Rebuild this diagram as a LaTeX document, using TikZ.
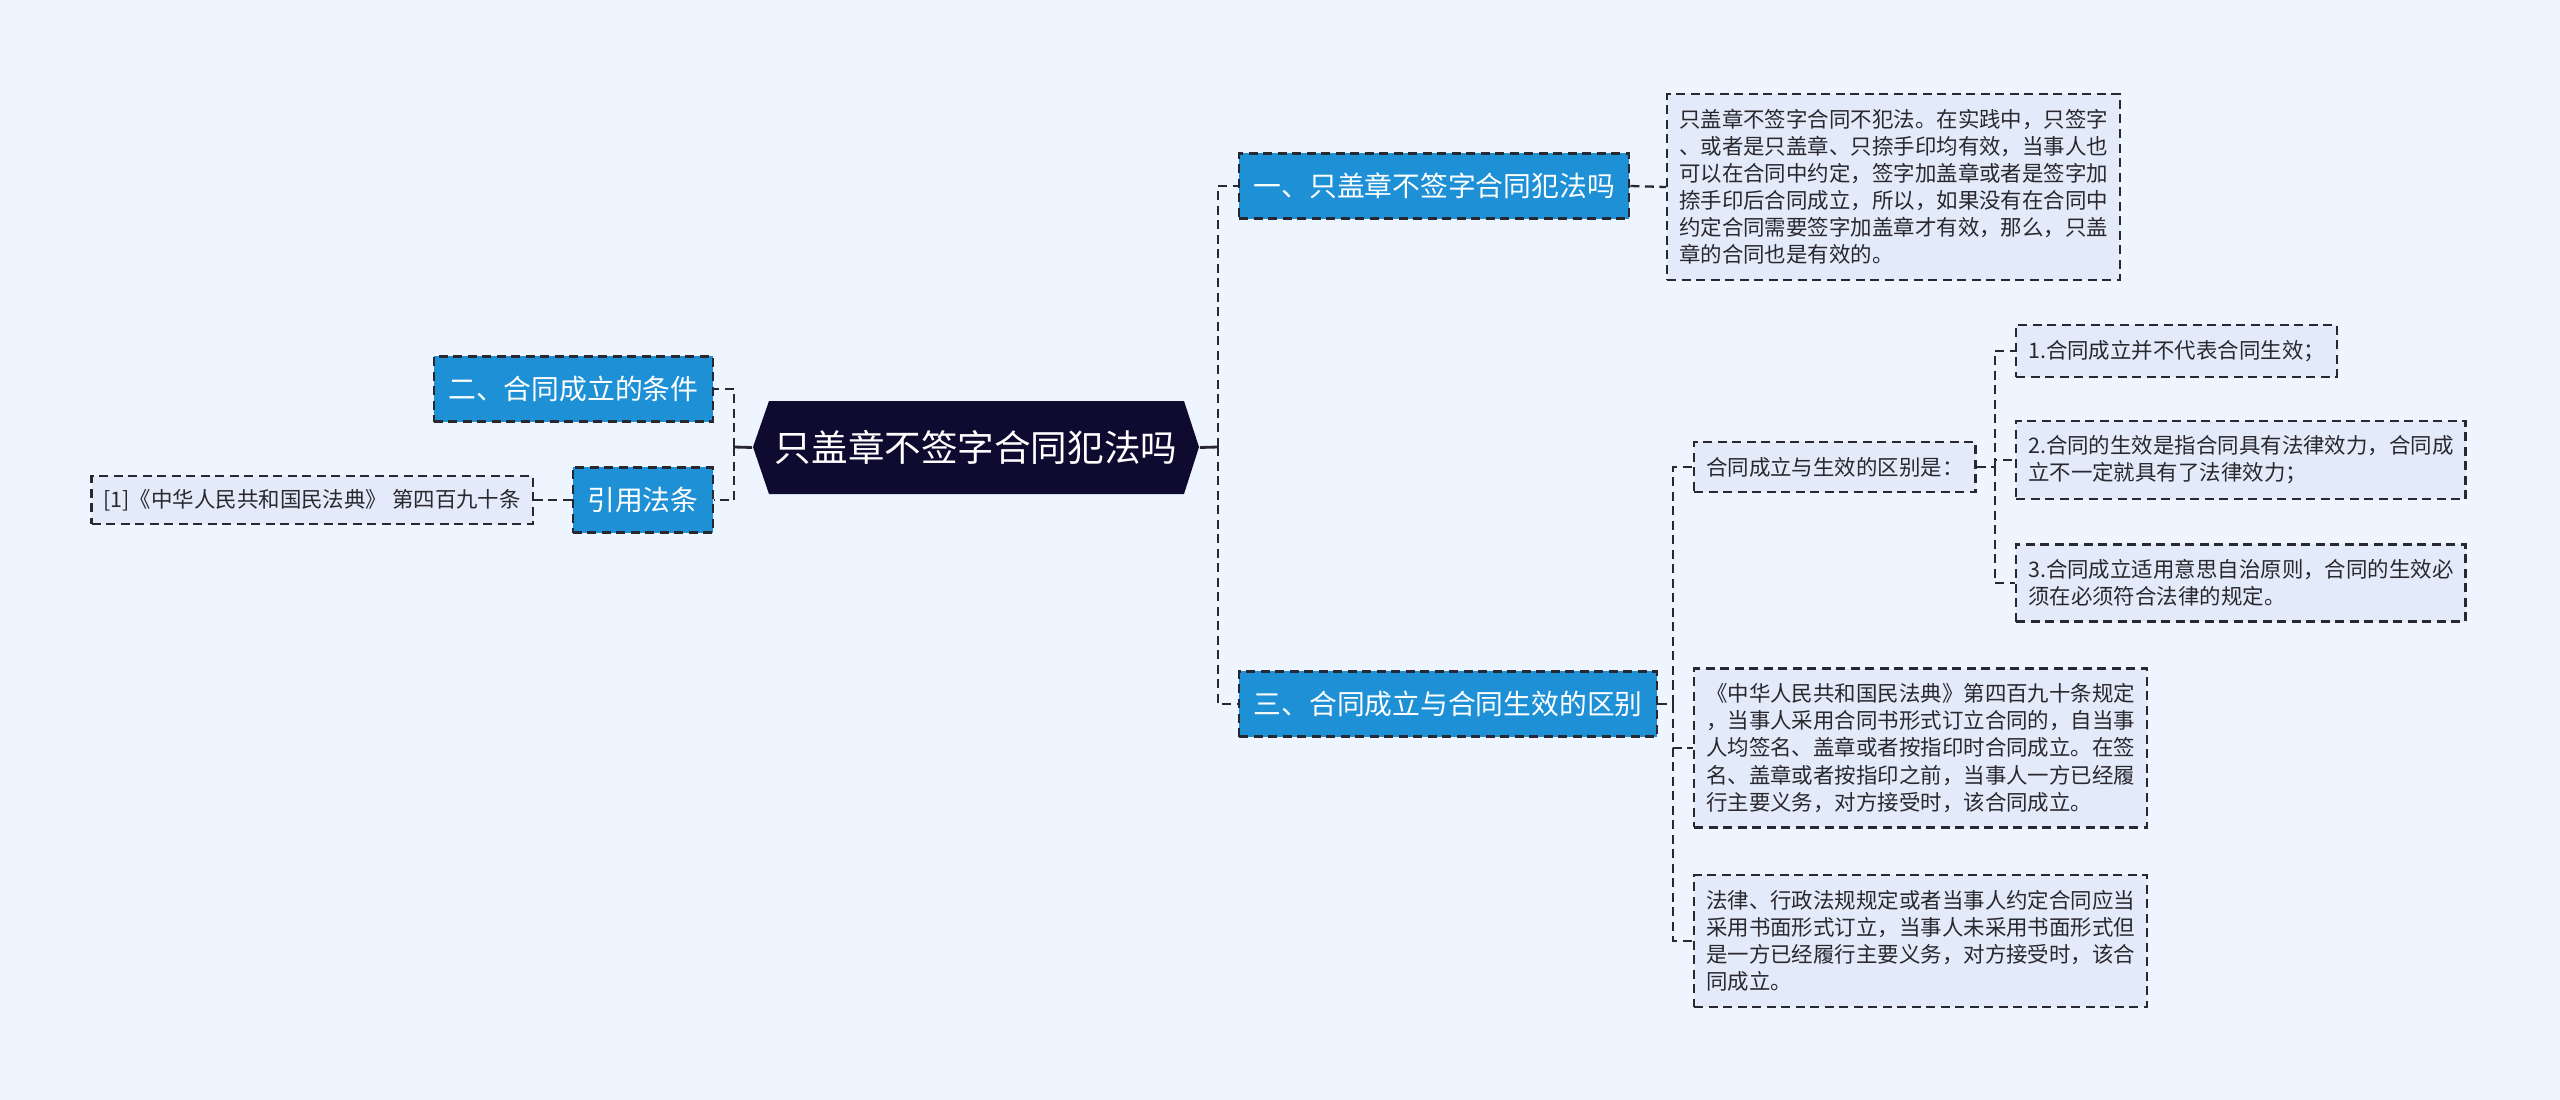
\documentclass[tikz,border=0pt]{standalone}
\usepackage{fontspec}
\setmainfont{Noto Sans CJK SC}
\usepackage{xcolor}
\usepackage{tikz}
\usetikzlibrary{positioning}
\definecolor{pagebg}{RGB}{239, 245, 255}
\definecolor{headblue}{RGB}{30, 144, 214}
\definecolor{rootnavy}{RGB}{14,  10,  48}
\definecolor{notefill}{RGB}{227, 235, 251}
\definecolor{linegray}{RGB}{40,  40,  48}
\definecolor{textgray}{RGB}{40,  40,  45}

\begin{document}
\begin{tikzpicture}[
  x=0.01cm, y=-0.01cm,
  link/.style={draw=linegray, line width=0.65pt, dash pattern=on 0.09cm off 0.055cm},
  stub/.style={draw=linegray, line width=0.8pt},
  headbox/.style={draw=linegray, line width=0.65pt, dash pattern=on 0.09cm off 0.055cm,
                  fill=headblue, text=white, inner xsep=0.145cm, minimum height=0.65cm,
                  font=\fontsize{7.9pt}{9pt}\selectfont},
  notebox/.style={draw=linegray, line width=0.65pt, dash pattern=on 0.09cm off 0.055cm,
                  fill=notefill, text=textgray, align=left, inner xsep=0.12cm, inner ysep=0.15cm,
                  font=\fontsize{6.1pt}{7.7pt}\selectfont}
]
  \useasboundingbox (0,0) rectangle (2560,1100);
  \fill[pagebg] (0,0) rectangle (2560,1100);

  % root
  \fill[rootnavy] (753,447) -- (769,401) -- (1184,401) -- (1199,447) -- (1184,494) -- (769,494) -- cycle;
  \node[text=white, minimum width=4.46cm, minimum height=0.93cm, inner sep=0pt,
        font=\fontsize{10.4pt}{12pt}\selectfont] (root) at (976,447.5) {只盖章不签字合同犯法吗};

  % left side
  \node[headbox, anchor=east] (cond) at (714,389) {二、合同成立的条件};
  \node[headbox, anchor=east] (law) at (714,500) {引用法条};
  \node[notebox, anchor=east, inner ysep=0.13cm] (cite) at (534,500) {[1]《中华人民共和国民法典》 第四百九十条};

  % right side
  \node[headbox, anchor=west] (crime) at (1238,186) {一、只盖章不签字合同犯法吗};
  \node[headbox, anchor=west] (diffhead) at (1238,704) {三、合同成立与合同生效的区别};

  \node[notebox, anchor=west] (crimenote) at (1666,187)
    {只盖章不签字合同不犯法。在实践中，只签字\\、或者是只盖章、只捺手印均有效，当事人也\\可以在合同中约定，签字加盖章或者是签字加\\捺手印后合同成立，所以，如果没有在合同中\\约定合同需要签字加盖章才有效，那么，只盖\\章的合同也是有效的。};

  \node[notebox, anchor=west] (diff) at (1693,467) {合同成立与生效的区别是：};
  \node[notebox, anchor=west] (diffa) at (2015,351) {1.合同成立并不代表合同生效；};
  \node[notebox, anchor=west] (diffb) at (2015,460)
    {2.合同的生效是指合同具有法律效力，合同成\\立不一定就具有了法律效力；};
  \node[notebox, anchor=west] (diffc) at (2015,583)
    {3.合同成立适用意思自治原则，合同的生效必\\须在必须符合法律的规定。};

  \node[notebox, anchor=west] (codex) at (1693,748)
    {《中华人民共和国民法典》第四百九十条规定\\，当事人采用合同书形式订立合同的，自当事\\人均签名、盖章或者按指印时合同成立。在签\\名、盖章或者按指印之前，当事人一方已经履\\行主要义务，对方接受时，该合同成立。};
  \node[notebox, anchor=west] (written) at (1693,941)
    {法律、行政法规规定或者当事人约定合同应当\\采用书面形式订立，当事人未采用书面形式但\\是一方已经履行主要义务，对方接受时，该合\\同成立。};

  % connectors
  \coordinate (lj) at (734,447);
  \coordinate (rj) at (1218,447);
  \coordinate (sj) at (1673,704);
  \coordinate (dj) at (1995,467);

  \draw[stub] (root.west) -- (lj);
  \draw[stub] (root.east) -- (rj);
  \draw[link] (lj) |- (cond.east);
  \draw[link] (lj) |- (law.east);
  \draw[link] (law.west) -- (cite.east);

  \draw[link] (rj) |- (crime.west);
  \draw[link] (rj) |- (diffhead.west);
  \draw[link] (crime.east) -- (crimenote.west);

  \draw[link] (diffhead.east) -- (sj);
  \draw[link] (sj) |- (diff.west);
  \draw[link] (sj) |- (codex.west);
  \draw[link] (sj) |- (written.west);

  \draw[link] (diff.east) -- (dj);
  \draw[link] (dj) |- (diffa.west);
  \draw[link] (dj) |- (diffb.west);
  \draw[link] (dj) |- (diffc.west);
\end{tikzpicture}
\end{document}
